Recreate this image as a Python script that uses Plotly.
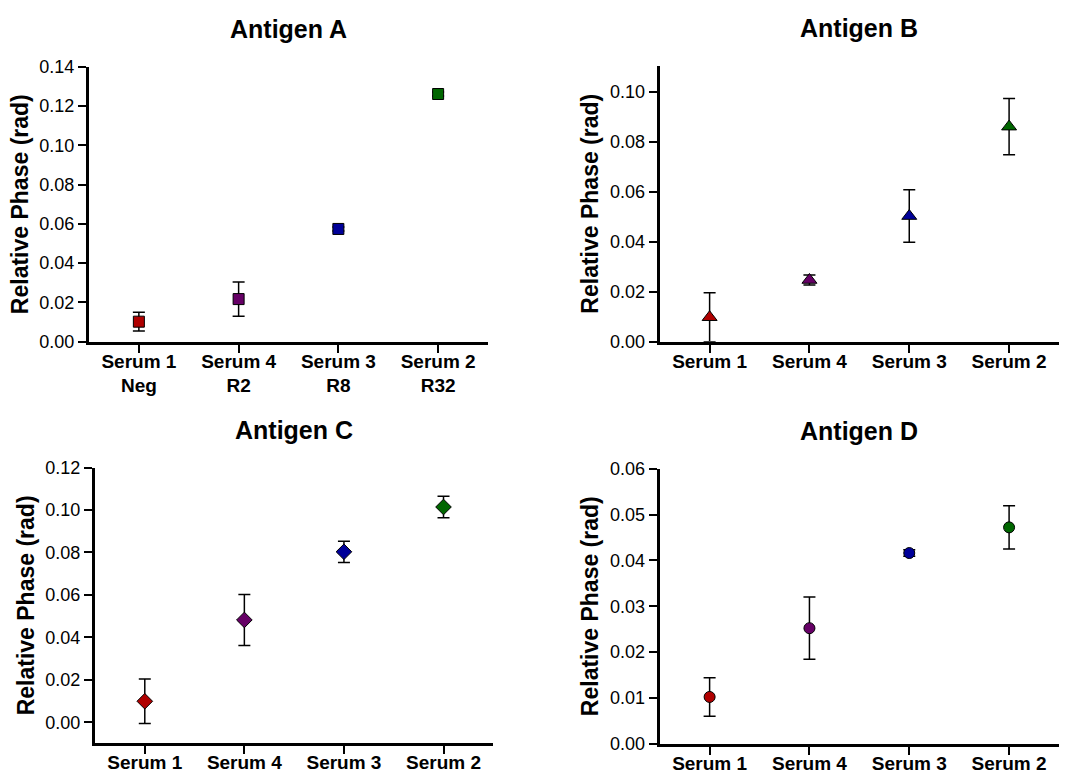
import plotly.graph_objects as go

W, H = 1069, 773

sera = ["Serum 1", "Serum 4", "Serum 3", "Serum 2"]
sera_a = ["Serum 1<br>Neg", "Serum 4<br>R2", "Serum 3<br>R8", "Serum 2<br>R32"]
colors = ["#B00000", "#660066", "#000099", "#006600"]

a_vals = [0.0102, 0.0217, 0.0574, 0.1261]
a_err = [0.0048, 0.0087, 0.0010, 0.0010]

b_vals = [0.0098, 0.0247, 0.0503, 0.0861]
b_err = [0.0098, 0.0020, 0.0105, 0.0113]

c_vals = [0.0099, 0.0482, 0.0803, 0.1014]
c_err = [0.0105, 0.0120, 0.0050, 0.0051]

d_vals = [0.0102, 0.0252, 0.0416, 0.0472]
d_err = [0.0042, 0.0068, 0.0007, 0.0047]

panels = [
    dict(title="Antigen A", vals=a_vals, err=a_err, sym="square", size=11, labels=sera_a,
         x=[89, 488], y=[66.7, 341.7], yr=[0, 0.14], dtick=0.02, fmt=".2f"),
    dict(title="Antigen B", vals=b_vals, err=b_err, sym="triangle-up", size=13, labels=sera,
         x=[659.7, 1059], y=[65.7, 341.7], yr=[0, 0.1105], dtick=0.02, fmt=".2f"),
    dict(title="Antigen C", vals=c_vals, err=c_err, sym="diamond", size=12, labels=sera,
         x=[95, 493.3], y=[467.5, 743.3], yr=[-0.0099, 0.12], dtick=0.02, fmt=".2f"),
    dict(title="Antigen D", vals=d_vals, err=d_err, sym="circle", size=11, labels=sera,
         x=[659.7, 1059], y=[468.7, 743.7], yr=[0, 0.06], dtick=0.01, fmt=".2f"),
]

FONT = "Liberation Sans, Arial, sans-serif"
fig = go.Figure()
annotations = []
layout = dict(
    width=W, height=H, autosize=False,
    margin=dict(l=0, r=0, t=0, b=0, pad=0, autoexpand=False),
    paper_bgcolor="white", plot_bgcolor="white", showlegend=False,
    font=dict(family=FONT, color="black"),
)

for i, p in enumerate(panels):
    k = "" if i == 0 else str(i + 1)
    xs = list(range(len(p["vals"])))
    for j in xs:
        fig.add_trace(go.Scatter(
            x=[j], y=[p["vals"][j]], mode="markers",
            xaxis="x" + k, yaxis="y" + k,
            marker=dict(symbol=p["sym"], size=p["size"], color=colors[j],
                        line=dict(color="black", width=1)),
            error_y=dict(type="data", array=[p["err"][j]], visible=True,
                         color="black", thickness=1.5, width=6),
        ))
    xd = [p["x"][0] / W, p["x"][1] / W]
    yd = [1 - p["y"][1] / H, 1 - p["y"][0] / H]
    layout["xaxis" + k] = dict(
        domain=xd, range=[-0.5, 3.5], anchor="y" + k, automargin=False,
        tickmode="array", tickvals=xs, ticktext=p["labels"],
        showline=True, linecolor="black", linewidth=3,
        ticks="outside", ticklen=8, tickwidth=2, tickcolor="black",
        ticklabelstandoff=-8,
        showgrid=False, zeroline=False,
        tickfont=dict(family=FONT, size=19, color="black", weight="bold"),
    )
    layout["yaxis" + k] = dict(
        domain=yd, range=p["yr"], anchor="x" + k, automargin=False,
        tick0=0, dtick=p["dtick"], tickformat=p["fmt"],
        showline=True, linecolor="black", linewidth=3,
        ticks="outside", ticklen=8, tickwidth=2, tickcolor="black",
        showgrid=False, zeroline=False,
        tickfont=dict(family=FONT, size=18, color="black"),
        title=dict(text="Relative Phase (rad)", standoff=5,
                   font=dict(family=FONT, size=23, color="black", weight="bold")),
    )
    annotations.append(dict(
        text="<b>" + p["title"] + "</b>", xref="paper", yref="paper",
        x=(xd[0] + xd[1]) / 2, y=1 - (p["y"][0] - 38) / H,
        xanchor="center", yanchor="middle", showarrow=False,
        font=dict(family=FONT, size=25, color="black"),
    ))

layout["annotations"] = annotations
fig.update_layout(**layout)
fig.write_html("out.html", config={"displayModeBar": False},
               post_script="document.body.style.margin='0';document.body.style.padding='0';")
